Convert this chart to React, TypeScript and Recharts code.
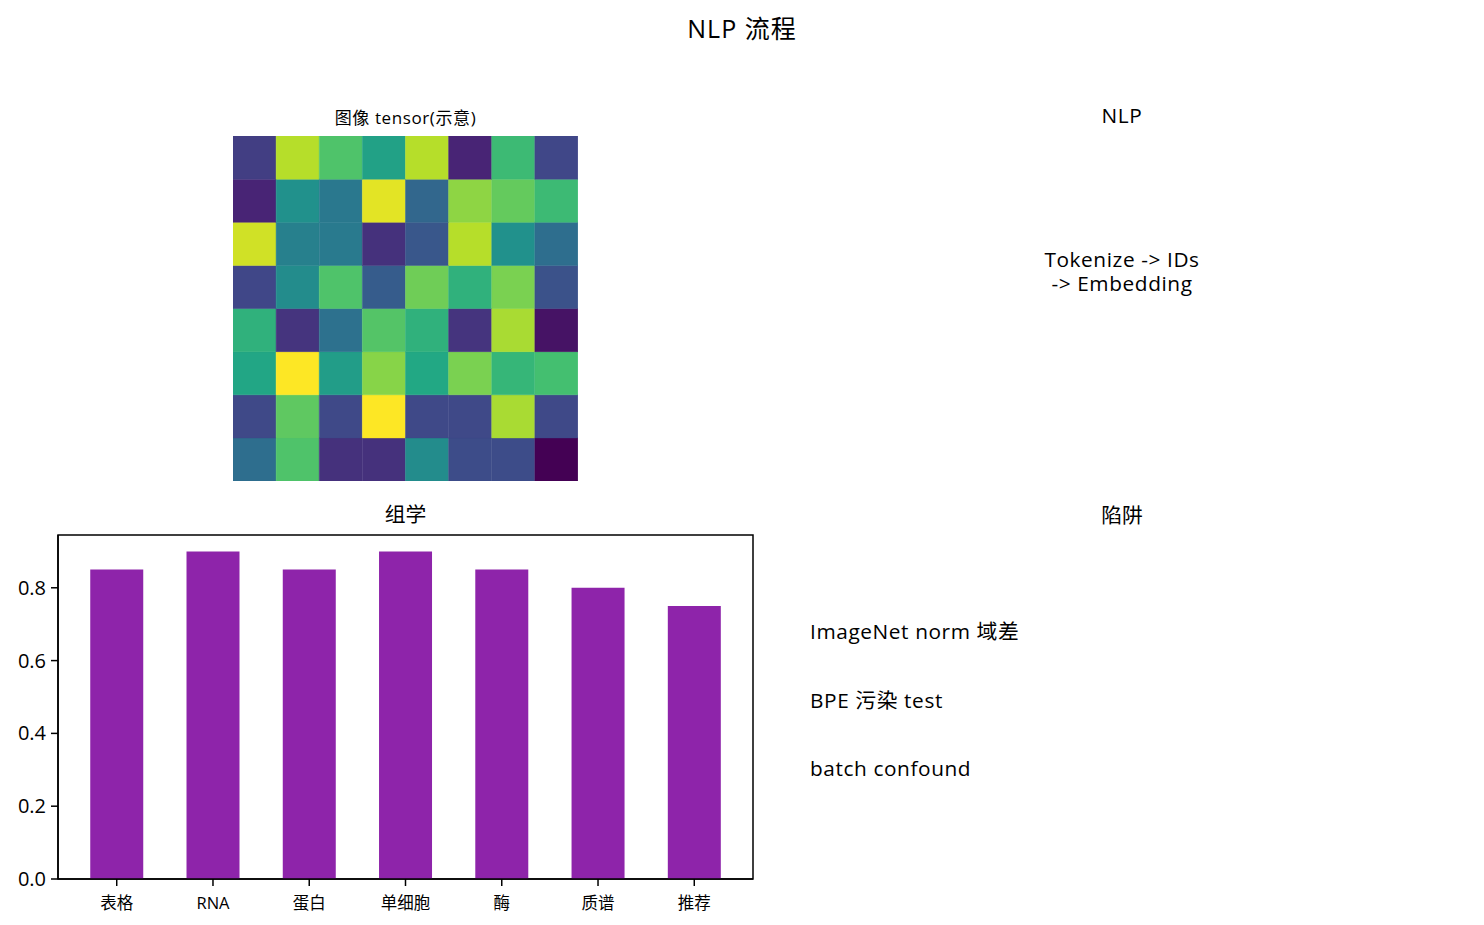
import React from 'react';
import { BarChart, Bar, XAxis, YAxis, Cell, ReferenceArea } from 'recharts';

// ---- data ----
const categories = ['表格', 'RNA', '蛋白', '单细胞', '酶', '质谱', '推荐'];
const scores = [0.85, 0.9, 0.85, 0.9, 0.85, 0.8, 0.75];
const yTicks = [0, 0.2, 0.4, 0.6, 0.8];
const yDomain = [0, 0.945];
const xTicks = categories.map((_, i) => i);
const xDomain = [-0.61, categories.length - 1 + 0.61];

// heatmap rows, top row first (imshow order)
const heatValues = [
  [0.18, 0.89, 0.72, 0.57, 0.89, 0.10, 0.68, 0.21],
  [0.10, 0.50, 0.40, 0.96, 0.33, 0.83, 0.76, 0.68],
  [0.93, 0.43, 0.41, 0.14, 0.27, 0.89, 0.50, 0.36],
  [0.21, 0.48, 0.72, 0.29, 0.78, 0.64, 0.80, 0.25],
  [0.64, 0.15, 0.37, 0.73, 0.64, 0.15, 0.87, 0.05],
  [0.59, 1.00, 0.55, 0.82, 0.60, 0.80, 0.66, 0.70],
  [0.22, 0.75, 0.22, 1.00, 0.22, 0.22, 0.87, 0.22],
  [0.36, 0.72, 0.14, 0.14, 0.48, 0.23, 0.23, 0.00],
];

const pitfalls = ['ImageNet norm 域差', 'BPE 污染 test', 'batch confound'];
const nlpLines = ['Tokenize -> IDs', '-> Embedding'];

// viridis colormap stops
const viridis = ['#440154', '#482475', '#414487', '#355f8d', '#2a788e', '#21918c', '#22a884', '#44bf70', '#7ad151', '#bddf26', '#fde725'];

function hexToRgb(h: string) {
  return [parseInt(h.slice(1, 3), 16), parseInt(h.slice(3, 5), 16), parseInt(h.slice(5, 7), 16)];
}
function viridisColor(v: number) {
  const t = Math.max(0, Math.min(1, v)) * (viridis.length - 1);
  const i = Math.min(viridis.length - 2, Math.floor(t));
  const f = t - i;
  const a = hexToRgb(viridis[i]);
  const b = hexToRgb(viridis[i + 1]);
  const c = a.map((x, k) => Math.round(x + (b[k] - x) * f));
  return `rgb(${c[0]},${c[1]},${c[2]})`;
}

const nRows = heatValues.length;
const nCols = heatValues[0].length;
const heatData = Array.from({ length: nCols }, (_, j) => {
  const o: any = { col: j };
  for (let k = 0; k < nRows; k++) o[`r${k}`] = 1;
  return o;
});
const barData = categories.map((name, i) => ({ idx: i, name, value: scores[i] }));

const FONT = "'Open Sans', 'Noto Sans CJK SC', sans-serif";
const PURPLE = '#8e24aa';
const LS = 0.6;

export default function App() {
  return (
    <div style={{ position: 'absolute', left: 0, top: 0, width: 1484, height: 925, background: '#fff', fontFamily: FONT }}>
      <svg width={1484} height={925} style={{ position: 'absolute', left: 0, top: 0 }} fontFamily={FONT}>
        <text x={742} y={28} textAnchor="middle" dominantBaseline="central" fontSize={25} letterSpacing={1} fill="#000">NLP 流程</text>
        <text x={405.5} y={117} textAnchor="middle" dominantBaseline="central" fontSize={17} letterSpacing={LS} fill="#000">图像 tensor(示意)</text>
        <text x={1122} y={115} textAnchor="middle" dominantBaseline="central" fontSize={20.8} letterSpacing={LS} fill="#000">NLP</text>
        <text x={405.5} y={514} textAnchor="middle" dominantBaseline="central" fontSize={20.8} fill="#000">组学</text>
        <text x={1122} y={515} textAnchor="middle" dominantBaseline="central" fontSize={20.8} fill="#000">陷阱</text>
        {pitfalls.map((t, i) => (
          <text key={t} x={810} y={631 + i * 68.5} textAnchor="start" dominantBaseline="central" fontSize={20.8} letterSpacing={LS} fill="#000">{t}</text>
        ))}
      </svg>

      <div style={{ position: 'absolute', left: 972, top: 247, width: 300, textAlign: 'center', fontSize: 20.8, lineHeight: '24px', letterSpacing: LS, color: '#000', whiteSpace: 'nowrap' }}>
        {nlpLines.map((t) => (
          <div key={t} style={{ height: 24 }}>{t}</div>
        ))}
      </div>

      <div style={{ position: 'absolute', left: 233, top: 136 }}>
        <BarChart width={345} height={345} data={heatData} margin={{ top: 0, right: 0, bottom: 0, left: 0 }} barCategoryGap={0} barGap={0}>
          <XAxis dataKey="col" hide />
          <YAxis hide domain={[0, nRows]} />
          {heatValues.map((_, k) => {
            const row = heatValues[nRows - 1 - k];
            return (
              <Bar key={k} dataKey={`r${k}`} stackId="h" isAnimationActive={false}>
                {row.map((v, j) => (
                  <Cell key={j} fill={viridisColor(v)} stroke={viridisColor(v)} strokeWidth={0.5} />
                ))}
              </Bar>
            );
          })}
        </BarChart>
      </div>

      <div style={{ position: 'absolute', left: 0, top: 500 }}>
        <BarChart width={770} height={425} data={barData} margin={{ top: 35, right: 17, bottom: 0, left: 0 }} barCategoryGap="22.5%">
          <XAxis
            dataKey="idx"
            type="number"
            domain={xDomain}
            ticks={xTicks}
            tickFormatter={(v: number) => categories[v] ?? ''}
            height={46}
            interval={0}
            tickSize={7}
            tickMargin={11}
            axisLine={{ stroke: '#000', strokeWidth: 1.5 }}
            tickLine={{ stroke: '#000', strokeWidth: 1.5 }}
            tick={{ fill: '#000', fontSize: 16.5, fontFamily: FONT }}
          />
          <YAxis
            width={58}
            domain={yDomain}
            ticks={yTicks}
            tickFormatter={(v: number) => v.toFixed(1)}
            tickSize={7}
            tickMargin={5}
            axisLine={{ stroke: '#000', strokeWidth: 1.5 }}
            tickLine={{ stroke: '#000', strokeWidth: 1.5 }}
            tick={{ fill: '#000', fontSize: 20, fontFamily: FONT }}
          />
          <Bar dataKey="value" fill={PURPLE} isAnimationActive={false} />
          <ReferenceArea y1={yDomain[0]} y2={yDomain[1]} fill="none" fillOpacity={0} stroke="#000" strokeWidth={1.5} ifOverflow="visible" />
        </BarChart>
      </div>
    </div>
  );
}
